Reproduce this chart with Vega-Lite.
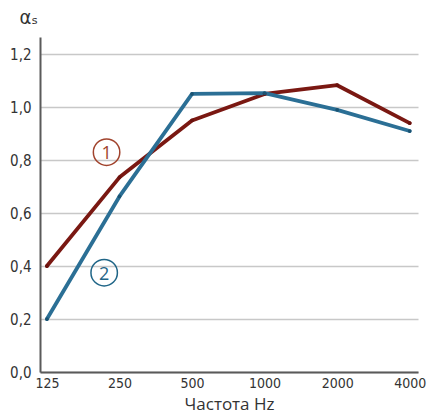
{
  "$schema": "https://vega.github.io/schema/vega-lite/v6.json",
  "width": 378,
  "height": 335,
  "autosize": {"type": "none"},
  "padding": {"left": 40, "top": 37, "right": 13, "bottom": 45},
  "background": "white",
  "datasets": {
    "curves": [
      {"freq": 125, "alpha": 0.40, "series": "1"},
      {"freq": 250, "alpha": 0.735, "series": "1"},
      {"freq": 500, "alpha": 0.95, "series": "1"},
      {"freq": 1000, "alpha": 1.05, "series": "1"},
      {"freq": 2000, "alpha": 1.083, "series": "1"},
      {"freq": 4000, "alpha": 0.94, "series": "1"},
      {"freq": 125, "alpha": 0.20, "series": "2"},
      {"freq": 250, "alpha": 0.663, "series": "2"},
      {"freq": 500, "alpha": 1.05, "series": "2"},
      {"freq": 1000, "alpha": 1.053, "series": "2"},
      {"freq": 2000, "alpha": 0.99, "series": "2"},
      {"freq": 4000, "alpha": 0.91, "series": "2"}
    ],
    "labels": [
      {"freq": 221, "alpha": 0.83, "series": "1"},
      {"freq": 216, "alpha": 0.375, "series": "2"}
    ]
  },
  "encoding": {
    "x": {
      "field": "freq",
      "type": "quantitative",
      "scale": {"type": "log", "domain": [117, 4330], "nice": false},
      "axis": {
        "values": [125, 250, 500, 1000, 2000, 4000],
        "format": "d",
        "grid": false,
        "ticks": false,
        "domainColor": "#5a5a5a",
        "domainWidth": 2,
        "labelFont": "DejaVu Sans Condensed, DejaVu Sans",
        "labelFontSize": 14,
        "labelColor": "#333333",
        "labelPadding": 4,
        "labelFlush": false,
        "title": "Частота Hz",
        "titleFont": "Open Sans",
        "titleFontSize": 17,
        "titleFontWeight": "normal",
        "titleColor": "#333333",
        "titlePadding": 6
      }
    },
    "y": {
      "field": "alpha",
      "type": "quantitative",
      "scale": {"domain": [0, 1.265], "nice": false},
      "axis": {
        "values": [0, 0.2, 0.4, 0.6, 0.8, 1.0, 1.2],
        "labelExpr": "replace(format(datum.value, '.1f'), '.', ',')",
        "grid": true,
        "gridColor": "#c8c8c8",
        "gridWidth": 1.5,
        "ticks": false,
        "domainColor": "#5a5a5a",
        "domainWidth": 2,
        "labelFont": "DejaVu Sans Condensed, DejaVu Sans",
        "labelFontSize": 15,
        "labelColor": "#333333",
        "labelPadding": 9,
        "title": "αₛ",
        "titleAngle": 0,
        "titleAlign": "left",
        "titleBaseline": "middle",
        "titleX": -21,
        "titleY": -20,
        "titleFont": "DejaVu Sans Condensed, DejaVu Sans",
        "titleFontSize": 20,
        "titleFontWeight": "normal",
        "titleColor": "#333333"
      }
    }
  },
  "layer": [
    {
      "data": {"name": "curves"},
      "mark": {"type": "line", "strokeWidth": 3.8, "strokeCap": "round", "strokeJoin": "round"},
      "encoding": {
        "color": {
          "field": "series",
          "type": "nominal",
          "scale": {"domain": ["1", "2"], "range": ["#7a1812", "#2b6f95"]},
          "legend": null
        }
      }
    },
    {
      "data": {"name": "curves"},
      "mark": {"type": "point", "filled": true, "size": 14, "opacity": 1},
      "encoding": {
        "color": {
          "field": "series",
          "type": "nominal",
          "scale": {"domain": ["1", "2"], "range": ["#6a120e", "#1a5373"]},
          "legend": null
        }
      }
    },
    {
      "data": {"name": "labels"},
      "mark": {"type": "point", "shape": "circle", "size": 700, "filled": false, "strokeWidth": 1.5, "opacity": 1, "fill": "white", "fillOpacity": 0},
      "encoding": {
        "stroke": {
          "field": "series",
          "type": "nominal",
          "scale": {"domain": ["1", "2"], "range": ["#a1432d", "#1f6587"]},
          "legend": null
        }
      }
    },
    {
      "data": {"name": "labels"},
      "mark": {"type": "text", "font": "Open Sans", "fontSize": 18, "baseline": "middle", "align": "center", "dy": 2},
      "encoding": {
        "text": {"field": "series"},
        "color": {
          "field": "series",
          "type": "nominal",
          "scale": {"domain": ["1", "2"], "range": ["#a1432d", "#1f6587"]},
          "legend": null
        }
      }
    }
  ],
  "resolve": {"scale": {"color": "independent", "stroke": "independent"}},
  "config": {"view": {"stroke": null}}
}
